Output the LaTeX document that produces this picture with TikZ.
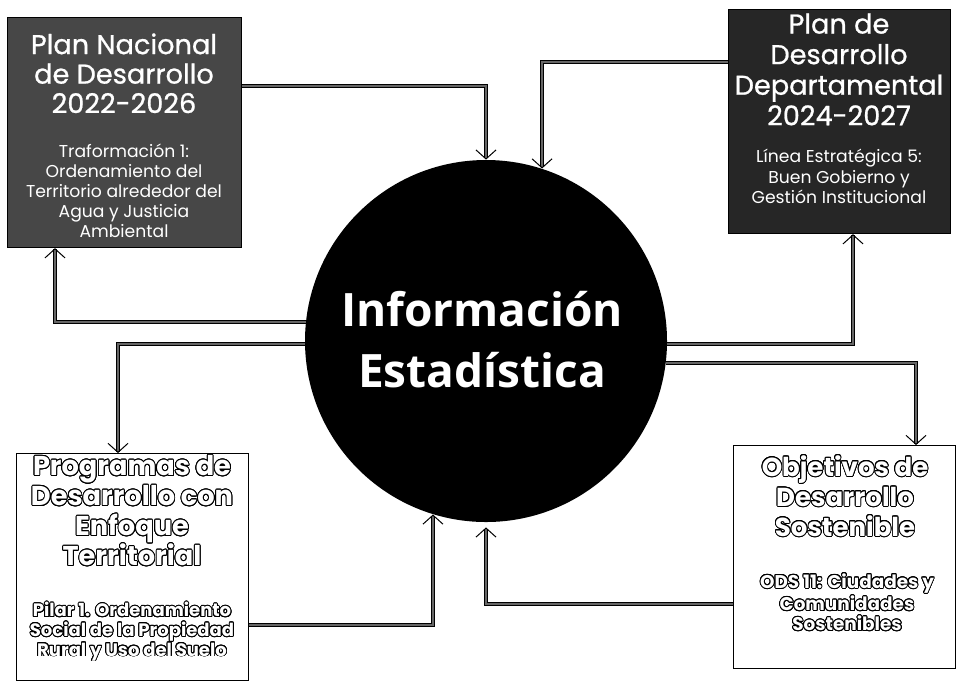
\documentclass[tikz,border=0pt]{standalone}
\usepackage{fontspec}
\setmainfont{Poppins}
\newfontfamily\circfont{Open Sans}
\newfontfamily\popfb[FakeBold=0.8]{Poppins}
\usepackage{contour}
\contourlength{0.45pt}
\contournumber{20}
\usetikzlibrary{arrows.meta}
\newcommand{\olt}[1]{\contour{black}{#1}}
\begin{document}
\begin{tikzpicture}[x=0.5pt,y=-0.5pt,
  darkbox/.style={draw=black, line width=0.6pt, anchor=north west, inner sep=0},
  lightbox/.style={draw=black, fill=white, line width=0.7pt, anchor=north west, inner sep=0},
  titletext/.style={text=white, align=center, inner sep=0, anchor=north},
  conn/.style={draw=black, line width=0.5pt, double=black!60, double distance=1pt,
    -{Straight Barb[length=4.5pt,width=10pt]}}]
\useasboundingbox (0,0) rectangle (956,682);
\fill[white] (0,0) rectangle (956,682);
% boxes
\node[darkbox, fill=black!72, minimum width=117pt, minimum height=115pt] (b1) at (7,17) {};
\node[darkbox, fill=black!85, minimum width=111pt, minimum height=112pt] (b2) at (728,9) {};
\node[lightbox, minimum width=116pt, minimum height=113.5pt] (b3) at (16,453) {};
\node[lightbox, minimum width=111pt, minimum height=111.5pt] (b4) at (733,445) {};
% circle
\node[circle, fill=black, minimum size=181pt, inner sep=0] (c) at (486,341) {};
\node[text=white, font=\circfont\bfseries\fontsize{23}{30.5}\selectfont, align=center] (ctext) at (482,340) {Información\\Estadística};
% texts
\node[titletext, font=\popfb\fontsize{13.6}{14.75}\selectfont] (t1) at (124,33) {Plan Nacional\\de Desarrollo\\2022-2026};
\node[titletext, font=\fontsize{8.6}{10}\selectfont] (s1) at (124,144) {Traformación 1:\\Ordenamiento del\\Territorio alrededor del\\Agua y Justicia\\Ambiental};
\node[titletext, font=\popfb\fontsize{13.6}{15.3}\selectfont] (t2) at (839,13) {Plan de\\Desarrollo\\Departamental\\2024-2027};
\node[titletext, font=\fontsize{8.6}{10.25}\selectfont] (s2) at (839,149) {Línea Estratégica 5:\\Buen Gobierno y\\Gestión Institucional};
\node[titletext, font=\bfseries\fontsize{13.6}{15}\selectfont] (t3) at (132,455) {\olt{Programas de}\\\olt{Desarrollo con}\\\olt{Enfoque}\\\olt{Territorial}};
\node[titletext, font=\bfseries\fontsize{9}{9.8}\selectfont] (s3) at (132,602) {\olt{Pilar 1. Ordenamiento}\\\olt{Social de la Propiedad}\\\olt{Rural y Uso del Suelo}};
\node[titletext, font=\bfseries\fontsize{13}{15}\selectfont] (t4) at (845,455) {\olt{Objetivos de}\\\olt{Desarrollo}\\\olt{Sostenible}};
\node[titletext, font=\bfseries\fontsize{9.2}{10}\selectfont] (s4) at (847,573) {\olt{ODS 11: Ciudades y}\\\olt{Comunidades}\\\olt{Sostenibles}};
% connectors
\draw[conn] (b1.east |- 0,86) -| (c.north);
\draw[conn] (b2.west |- 0,62) -| (c.72);
\draw[conn] (c.174) -| (b1.south -| 55,0);
\draw[conn] (c.181) -| (b3.north -| 118,0);
\draw[conn] (c.359) -| (b2.south -| 853,0);
\draw[conn] (c.-7) -| (b4.north -| 916,0);
\draw[conn] (b3.east |- 0,625) -| (c.253);
\draw[conn, shorten >=2.5pt] (b4.west |- 0,604) -| (c.south);
\end{tikzpicture}
\end{document}
